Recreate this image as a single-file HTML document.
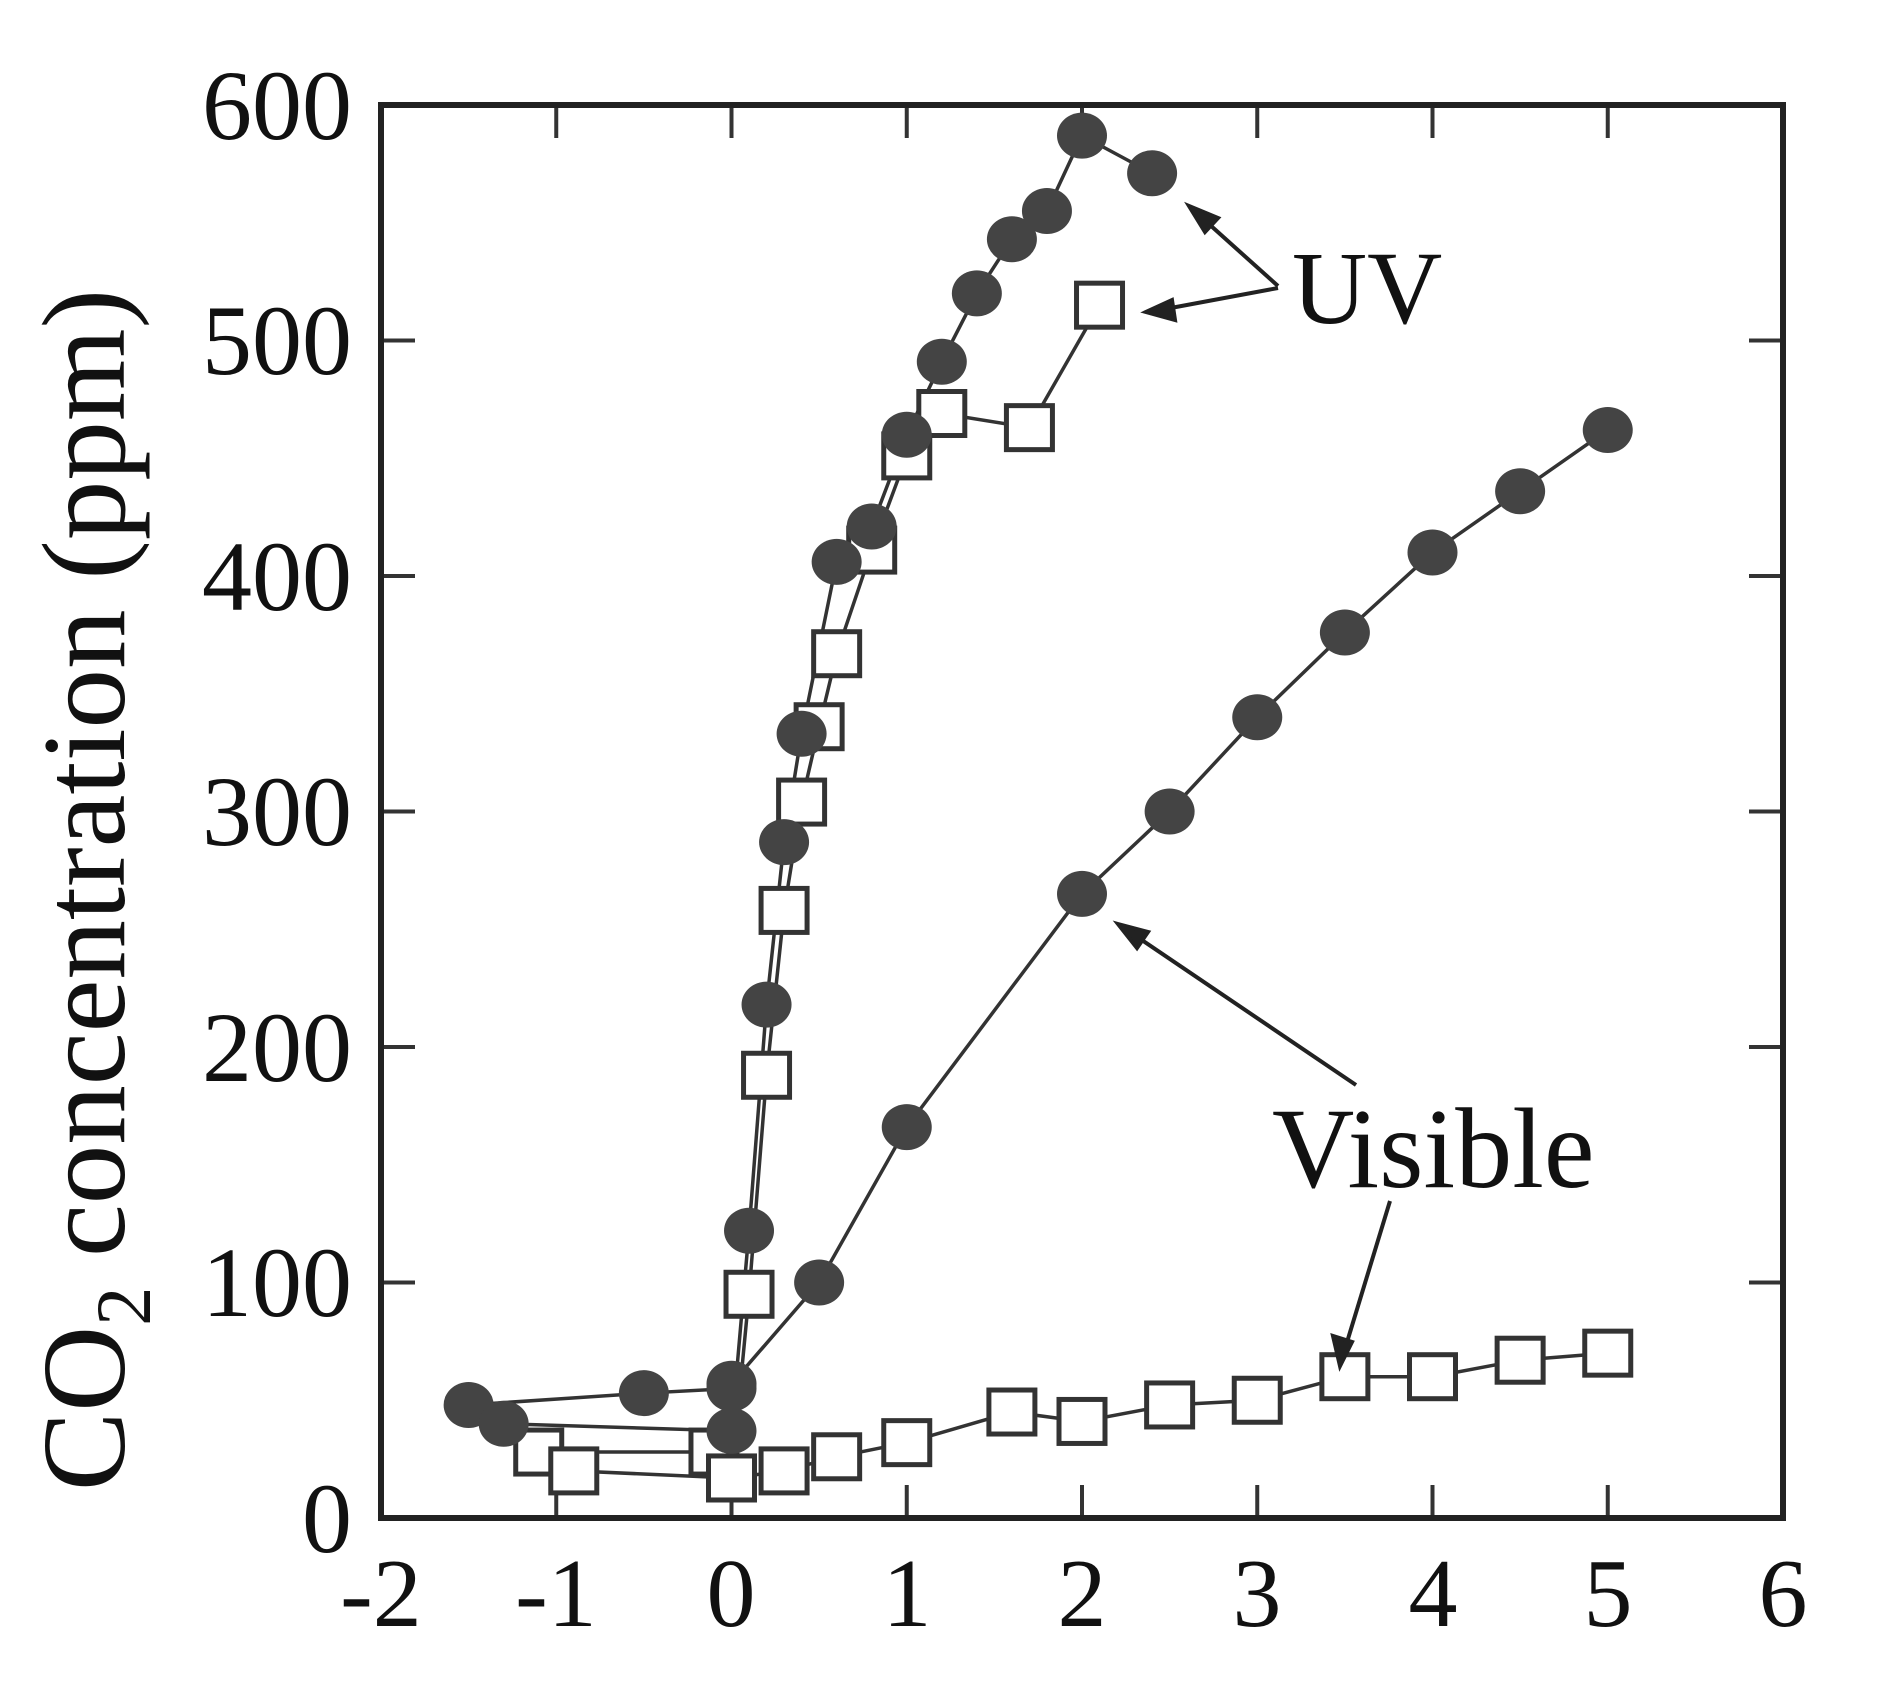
<!DOCTYPE html>
<html><head><meta charset="utf-8"><style>
html,body{margin:0;padding:0;background:#fff;}
svg{display:block;}
text{font-family:"Liberation Serif",serif;fill:#111;}
</style></head><body>
<svg id="s" width="1886" height="1699" viewBox="0 0 1886 1699" xmlns="http://www.w3.org/2000/svg">
<rect x="0" y="0" width="1886" height="1699" fill="#fff"/>
<g id="ticks" stroke="#333" stroke-width="4"></g>
<rect x="381" y="105" width="1402" height="1413" fill="none" stroke="#222" stroke-width="6"/>
<g font-size="100" text-anchor="end">
<text x="352" y="1552">0</text>
<text x="352" y="1316">100</text>
<text x="352" y="1081">200</text>
<text x="352" y="845">300</text>
<text x="352" y="610">400</text>
<text x="352" y="374">500</text>
<text x="352" y="139">600</text>
</g>
<g font-size="98" text-anchor="middle">
<text x="381" y="1626">-2</text>
<text x="556" y="1626">-1</text>
<text x="731" y="1626">0</text>
<text x="907" y="1626">1</text>
<text x="1082" y="1626">2</text>
<text x="1257" y="1626">3</text>
<text x="1433" y="1626">4</text>
<text x="1608" y="1626">5</text>
<text x="1783" y="1626">6</text>
</g>
<text transform="translate(124,890) rotate(-90)" font-size="119" text-anchor="middle">CO<tspan font-size="78" dy="26">2</tspan><tspan dy="-26"> concentration (ppm)</tspan></text>
<g id="lines" fill="none" stroke="#333" stroke-width="3.5"></g>
<g id="marks"></g>
<text x="1292" y="323" font-size="104">UV</text>
<text x="1272" y="1187" font-size="114">Visible</text>
<g stroke="#222" stroke-width="4" fill="#222">
<line x1="1278" y1="286" x2="1200" y2="216"/><polygon points="1189,206 1218,218 1205,232"/>
<line x1="1278" y1="288" x2="1160" y2="310"/><polygon points="1146,312 1172,300 1175,320"/>
<line x1="1356" y1="1085" x2="1130" y2="932"/><polygon points="1118,924 1148,932 1137,948"/>
<line x1="1390" y1="1201" x2="1344" y2="1352"/><polygon points="1340,1366 1333,1336 1352,1342"/>
</g>
</svg>
<script>
var NS="http://www.w3.org/2000/svg";
function px(x){return 731.5+x*175.25;}
function py(y){return 1518-y*2.355;}
function el(n,a,p){var e=document.createElementNS(NS,n);for(var k in a)e.setAttribute(k,a[k]);document.getElementById(p).appendChild(e);}
for(var i=-1;i<=5;i++){var x=px(i);el("line",{x1:x,y1:1518,x2:x,y2:1485},"ticks");el("line",{x1:x,y1:105,x2:x,y2:138},"ticks");}
for(var j=1;j<=5;j++){var y=py(j*100);el("line",{x1:381,y1:y,x2:415,y2:y},"ticks");el("line",{x1:1783,y1:y,x2:1749,y2:y},"ticks");}
function line(pts){el("polyline",{points:pts.map(function(p){return px(p[0])+","+py(p[1]);}).join(" ")},"lines");}
var uvC1=[[-1.5,48],[-0.5,53],[0,55]];
var uvC2=[[-1.3,40],[0,37],[0.1,122],[0.2,218],[0.3,287],[0.4,333],[0.6,406],[0.8,421],[1,460],[1.2,491],[1.4,520],[1.6,543],[1.8,555],[2,587],[2.4,571]];
var visC=[[0,57],[0.5,100],[1,166],[2,265],[2.5,300],[3,340],[3.5,376],[4,410],[4.5,436],[5,462]];
var uvS=[[-1.1,28],[-0.1,28],[0,17],[0.1,95],[0.2,188],[0.3,258],[0.4,304],[0.5,336],[0.6,367],[0.8,411],[1,451],[1.2,469],[1.7,463],[2.1,515]];
var visS=[[-0.9,20],[0,17],[0.3,20],[0.6,26],[1,32],[1.6,45],[2,41],[2.5,48],[3,50],[3.5,60],[4,60],[4.5,67],[5,70]];
[uvC1,uvC2,visC,uvS,visS].forEach(line);
line([[-1.5,48],[-1.3,40]]);
function sq(a){a.forEach(function(p){el("rect",{x:px(p[0])-23,y:py(p[1])-22,width:46,height:44,fill:"#fff",stroke:"#333","stroke-width":5},"marks");});}
function ci(a){a.forEach(function(p){el("ellipse",{cx:px(p[0]),cy:py(p[1]),rx:25,ry:23,fill:"#444"},"marks");});}
sq(uvS);sq(visS);ci(uvC1);ci(uvC2);ci(visC);
</script>
</body></html>
